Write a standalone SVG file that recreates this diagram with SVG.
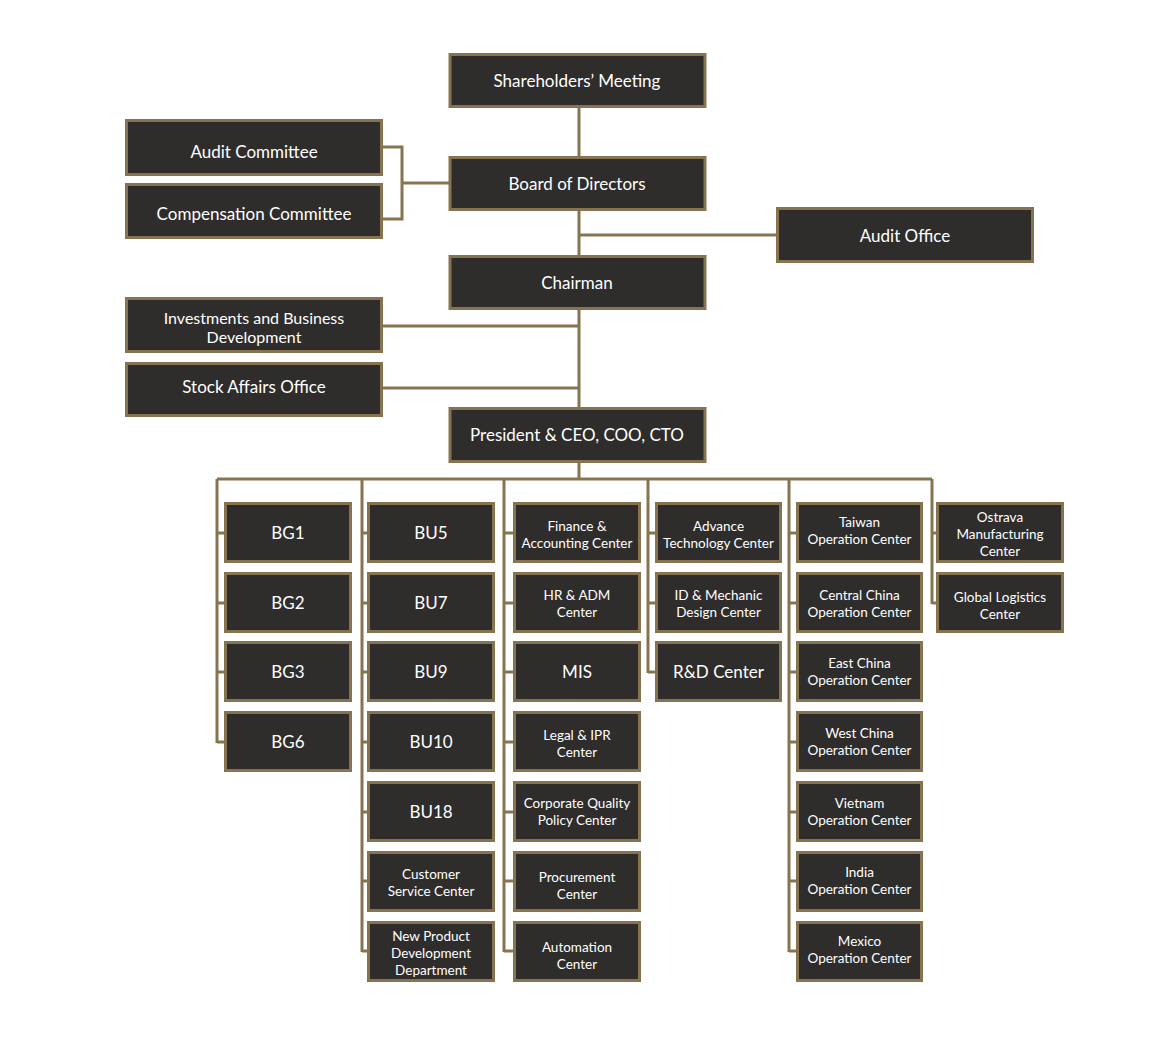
<svg xmlns="http://www.w3.org/2000/svg" width="1155" height="1044" viewBox="0 0 1155 1044">
<style>
.b{fill:#2e2d2c;stroke:#85744f;stroke-width:3}
.c{fill:none;stroke:#85744f;stroke-width:3}
.t{font-family:Lato,"Liberation Sans",sans-serif;fill:#fff;text-anchor:middle}
.L{font-size:17px}
.M{font-size:16px}
.S{font-size:13.5px}
</style>
<rect width="1155" height="1044" fill="#fff"/>
<g id="connectors" class="c">
<path d="M579 108V156M579 211V255M579 310V407M579 463V479M579 235H776"/>
<path d="M383 147H402V219H383M402 183H449"/>
<path d="M383 326H579M383 388H579"/>
<path d="M217 479H932"/>
<path d="M217 479V743M217 533H224M217 603H224M217 672H224M217 742H224"/>
<path d="M362 479V952M362 533H367M362 603H367M362 672H367M362 742H367M362 812H367M362 881H367M362 951H367"/>
<path d="M504 479V952M504 533H513M504 603H513M504 672H513M504 742H513M504 812H513M504 881H513M504 951H513"/>
<path d="M648 479V673M648 533H655M648 603H655M648 672H655"/>
<path d="M789 479V952M789 533H796M789 603H796M789 672H796M789 742H796M789 812H796M789 881H796M789 951H796"/>
<path d="M932 479V604M932 533H936M932 603H936"/>
</g>
<g id="shareholders"><rect class="b" x="450" y="54.5" width="255" height="52"/><text class="t L" x="577" y="87">Shareholders’ Meeting</text></g>
<g id="board"><rect class="b" x="450" y="157.5" width="255" height="52"/><text class="t L" x="577" y="190">Board of Directors</text></g>
<g id="chairman"><rect class="b" x="450" y="256.5" width="255" height="52"/><text class="t L" x="577" y="289">Chairman</text></g>
<g id="president"><rect class="b" x="450" y="408.5" width="255" height="53"/><text class="t L" x="577" y="441">President &amp; CEO, COO, CTO</text></g>
<g id="audit-office"><rect class="b" x="777.5" y="208.5" width="255" height="53"/><text class="t L" x="905" y="242">Audit Office</text></g>
<g id="audit-committee"><rect class="b" x="126.5" y="120.5" width="255" height="54"/><text class="t L" x="254" y="158">Audit Committee</text></g>
<g id="compensation-committee"><rect class="b" x="126.5" y="184.5" width="255" height="53"/><text class="t L" x="254" y="220">Compensation Committee</text></g>
<g id="investments"><rect class="b" x="126.5" y="298.5" width="255" height="53"/><text class="t M" x="254" y="324">Investments and Business</text><text class="t M" x="254" y="343">Development</text></g>
<g id="stock-affairs"><rect class="b" x="126.5" y="363.5" width="255" height="52"/><text class="t L" x="254" y="393">Stock Affairs Office</text></g>

<g id="bg1"><rect class="b" x="225.5" y="503.5" width="125" height="58"/><text class="t L" x="288" y="539">BG1</text></g>
<g id="bg2"><rect class="b" x="225.5" y="573.5" width="125" height="58"/><text class="t L" x="288" y="609">BG2</text></g>
<g id="bg3"><rect class="b" x="225.5" y="642.5" width="125" height="58"/><text class="t L" x="288" y="678">BG3</text></g>
<g id="bg6"><rect class="b" x="225.5" y="712.5" width="125" height="58"/><text class="t L" x="288" y="748">BG6</text></g>

<g id="bu5"><rect class="b" x="368.5" y="503.5" width="125" height="58"/><text class="t L" x="431" y="539">BU5</text></g>
<g id="bu7"><rect class="b" x="368.5" y="573.5" width="125" height="58"/><text class="t L" x="431" y="609">BU7</text></g>
<g id="bu9"><rect class="b" x="368.5" y="642.5" width="125" height="58"/><text class="t L" x="431" y="678">BU9</text></g>
<g id="bu10"><rect class="b" x="368.5" y="712.5" width="125" height="58"/><text class="t L" x="431" y="748">BU10</text></g>
<g id="bu18"><rect class="b" x="368.5" y="782.5" width="125" height="58"/><text class="t L" x="431" y="818">BU18</text></g>
<g id="customer-service"><rect class="b" x="368.5" y="852.5" width="125" height="58"/><text class="t S" x="431" y="879">Customer</text><text class="t S" x="431" y="896">Service Center</text></g>
<g id="new-product"><rect class="b" x="368.5" y="922.5" width="125" height="58"/><text class="t S" x="431" y="941">New Product</text><text class="t S" x="431" y="958">Development</text><text class="t S" x="431" y="975">Department</text></g>

<g id="finance"><rect class="b" x="514.5" y="503.5" width="125" height="58"/><text class="t S" x="577" y="531">Finance &amp;</text><text class="t S" x="577" y="548">Accounting Center</text></g>
<g id="hr"><rect class="b" x="514.5" y="573.5" width="125" height="58"/><text class="t S" x="577" y="600">HR &amp; ADM</text><text class="t S" x="577" y="617">Center</text></g>
<g id="mis"><rect class="b" x="514.5" y="642.5" width="125" height="58"/><text class="t L" x="577" y="678">MIS</text></g>
<g id="legal"><rect class="b" x="514.5" y="712.5" width="125" height="58"/><text class="t S" x="577" y="740">Legal &amp; IPR</text><text class="t S" x="577" y="757">Center</text></g>
<g id="quality"><rect class="b" x="514.5" y="782.5" width="125" height="58"/><text class="t S" x="577" y="808">Corporate Quality</text><text class="t S" x="577" y="825">Policy Center</text></g>
<g id="procurement"><rect class="b" x="514.5" y="852.5" width="125" height="58"/><text class="t S" x="577" y="882">Procurement</text><text class="t S" x="577" y="899">Center</text></g>
<g id="automation"><rect class="b" x="514.5" y="922.5" width="125" height="58"/><text class="t S" x="577" y="952">Automation</text><text class="t S" x="577" y="969">Center</text></g>

<g id="advance-tech"><rect class="b" x="656.5" y="503.5" width="124" height="58"/><text class="t S" x="718.5" y="531">Advance</text><text class="t S" x="718.5" y="548">Technology Center</text></g>
<g id="id-mechanic"><rect class="b" x="656.5" y="573.5" width="124" height="58"/><text class="t S" x="718.5" y="600">ID &amp; Mechanic</text><text class="t S" x="718.5" y="617">Design Center</text></g>
<g id="rd"><rect class="b" x="656.5" y="642.5" width="124" height="58"/><text class="t L" x="718.5" y="678">R&amp;D Center</text></g>

<g id="taiwan"><rect class="b" x="797.5" y="503.5" width="124" height="58"/><text class="t S" x="859.5" y="527">Taiwan</text><text class="t S" x="859.5" y="544">Operation Center</text></g>
<g id="central-china"><rect class="b" x="797.5" y="573.5" width="124" height="58"/><text class="t S" x="859.5" y="600">Central China</text><text class="t S" x="859.5" y="617">Operation Center</text></g>
<g id="east-china"><rect class="b" x="797.5" y="642.5" width="124" height="58"/><text class="t S" x="859.5" y="668">East China</text><text class="t S" x="859.5" y="685">Operation Center</text></g>
<g id="west-china"><rect class="b" x="797.5" y="712.5" width="124" height="58"/><text class="t S" x="859.5" y="738">West China</text><text class="t S" x="859.5" y="755">Operation Center</text></g>
<g id="vietnam"><rect class="b" x="797.5" y="782.5" width="124" height="58"/><text class="t S" x="859.5" y="808">Vietnam</text><text class="t S" x="859.5" y="825">Operation Center</text></g>
<g id="india"><rect class="b" x="797.5" y="852.5" width="124" height="58"/><text class="t S" x="859.5" y="877">India</text><text class="t S" x="859.5" y="894">Operation Center</text></g>
<g id="mexico"><rect class="b" x="797.5" y="922.5" width="124" height="58"/><text class="t S" x="859.5" y="946">Mexico</text><text class="t S" x="859.5" y="963">Operation Center</text></g>

<g id="ostrava"><rect class="b" x="937.5" y="503.5" width="125" height="58"/><text class="t S" x="1000" y="522">Ostrava</text><text class="t S" x="1000" y="539">Manufacturing</text><text class="t S" x="1000" y="556">Center</text></g>
<g id="global-logistics"><rect class="b" x="937.5" y="573.5" width="125" height="58"/><text class="t S" x="1000" y="602">Global Logistics</text><text class="t S" x="1000" y="619">Center</text></g>
</svg>
